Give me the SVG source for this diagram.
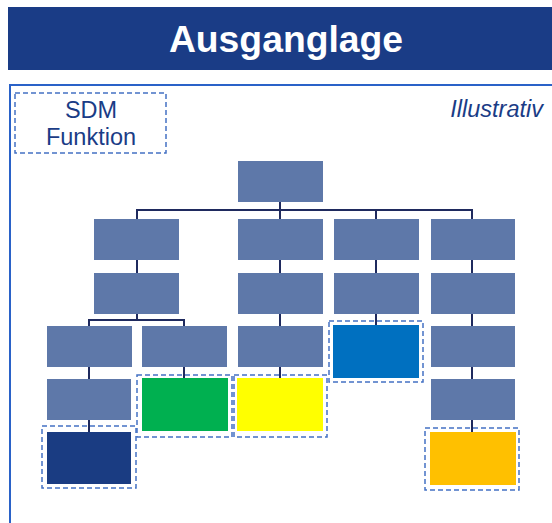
<svg xmlns="http://www.w3.org/2000/svg" width="552" height="523" viewBox="0 0 552 523">
<style>
.n{fill:#5e78a9}
.d{fill:none;stroke:#4472c4;stroke-width:1.5;stroke-dasharray:5 3}
.c{fill:none;stroke:#1f2a5e;stroke-width:2}
.t{font-family:"Liberation Sans",Arial,sans-serif;fill:#1a3c86}
</style>
<rect x="8" y="7" width="544" height="63" fill="#1a3c86"/>
<text x="286" y="52" text-anchor="middle" font-family="Liberation Sans,Arial,sans-serif" font-weight="bold" font-size="37.3" fill="#fff">Ausganglage</text>
<path d="M10 523V85H552" fill="none" stroke="#2a62c8" stroke-width="2"/>
<g id="legend">
<rect class="d" x="15" y="93" width="151" height="60"/>
<text class="t" x="91" y="118" text-anchor="middle" font-size="23.5">SDM</text>
<text class="t" x="91" y="145" text-anchor="middle" font-size="23.5">Funktion</text>
</g>
<text class="t" x="543" y="117" text-anchor="end" font-size="23.5" font-style="italic">Illustrativ</text>
<g id="connectors">
<path class="c" d="M280 202V210M137 219V210H472V219M280 210V219M376 210V219"/>
<path class="c" d="M137 260V273M280 260V273M376 260V273M472 260V273"/>
<path class="c" d="M137 314V320M89 326V320H184V326M280 314V326M376 314V325M472 314V326"/>
<path class="c" d="M89 367V379M184 367V378M280 367V378M472 367V379"/>
<path class="c" d="M89 420V432M472 420V432"/>
</g>
<g id="n0"><rect class="n" x="238" y="161" width="85" height="41"/></g>
<g id="n1"><rect class="n" x="94" y="219" width="85" height="41"/></g>
<g id="n2"><rect class="n" x="238" y="219" width="85" height="41"/></g>
<g id="n3"><rect class="n" x="334" y="219" width="85" height="41"/></g>
<g id="n4"><rect class="n" x="431" y="219" width="84" height="41"/></g>
<g id="n5"><rect class="n" x="94" y="273" width="85" height="41"/></g>
<g id="n6"><rect class="n" x="238" y="273" width="85" height="41"/></g>
<g id="n7"><rect class="n" x="334" y="273" width="85" height="41"/></g>
<g id="n8"><rect class="n" x="431" y="273" width="84" height="41"/></g>
<g id="n9"><rect class="n" x="47" y="326" width="85" height="41"/></g>
<g id="n10"><rect class="n" x="142" y="326" width="85" height="41"/></g>
<g id="n11"><rect class="n" x="238" y="326" width="85" height="41"/></g>
<g id="n12"><rect class="d" x="329" y="321" width="94" height="61"/><rect x="333" y="325" width="86" height="53" fill="#0070c0"/></g>
<g id="n13"><rect class="n" x="431" y="326" width="84" height="41"/></g>
<g id="n14"><rect class="n" x="47" y="379" width="84" height="41"/></g>
<g id="n15"><rect class="d" x="137" y="375" width="95" height="62"/><rect x="142" y="378" width="86" height="53" fill="#00b050"/></g>
<g id="n16"><rect class="d" x="234" y="375" width="93" height="62"/><rect x="237" y="378" width="86" height="53" fill="#ffff00"/></g>
<g id="n17"><rect class="n" x="431" y="379" width="84" height="41"/></g>
<g id="n18"><rect class="d" x="42" y="426" width="94" height="62"/><rect x="47" y="432" width="84" height="52" fill="#1a3c82"/></g>
<g id="n19"><rect class="d" x="425" y="428" width="94" height="62"/><rect x="430" y="432" width="86" height="53" fill="#ffc000"/></g>
</svg>
